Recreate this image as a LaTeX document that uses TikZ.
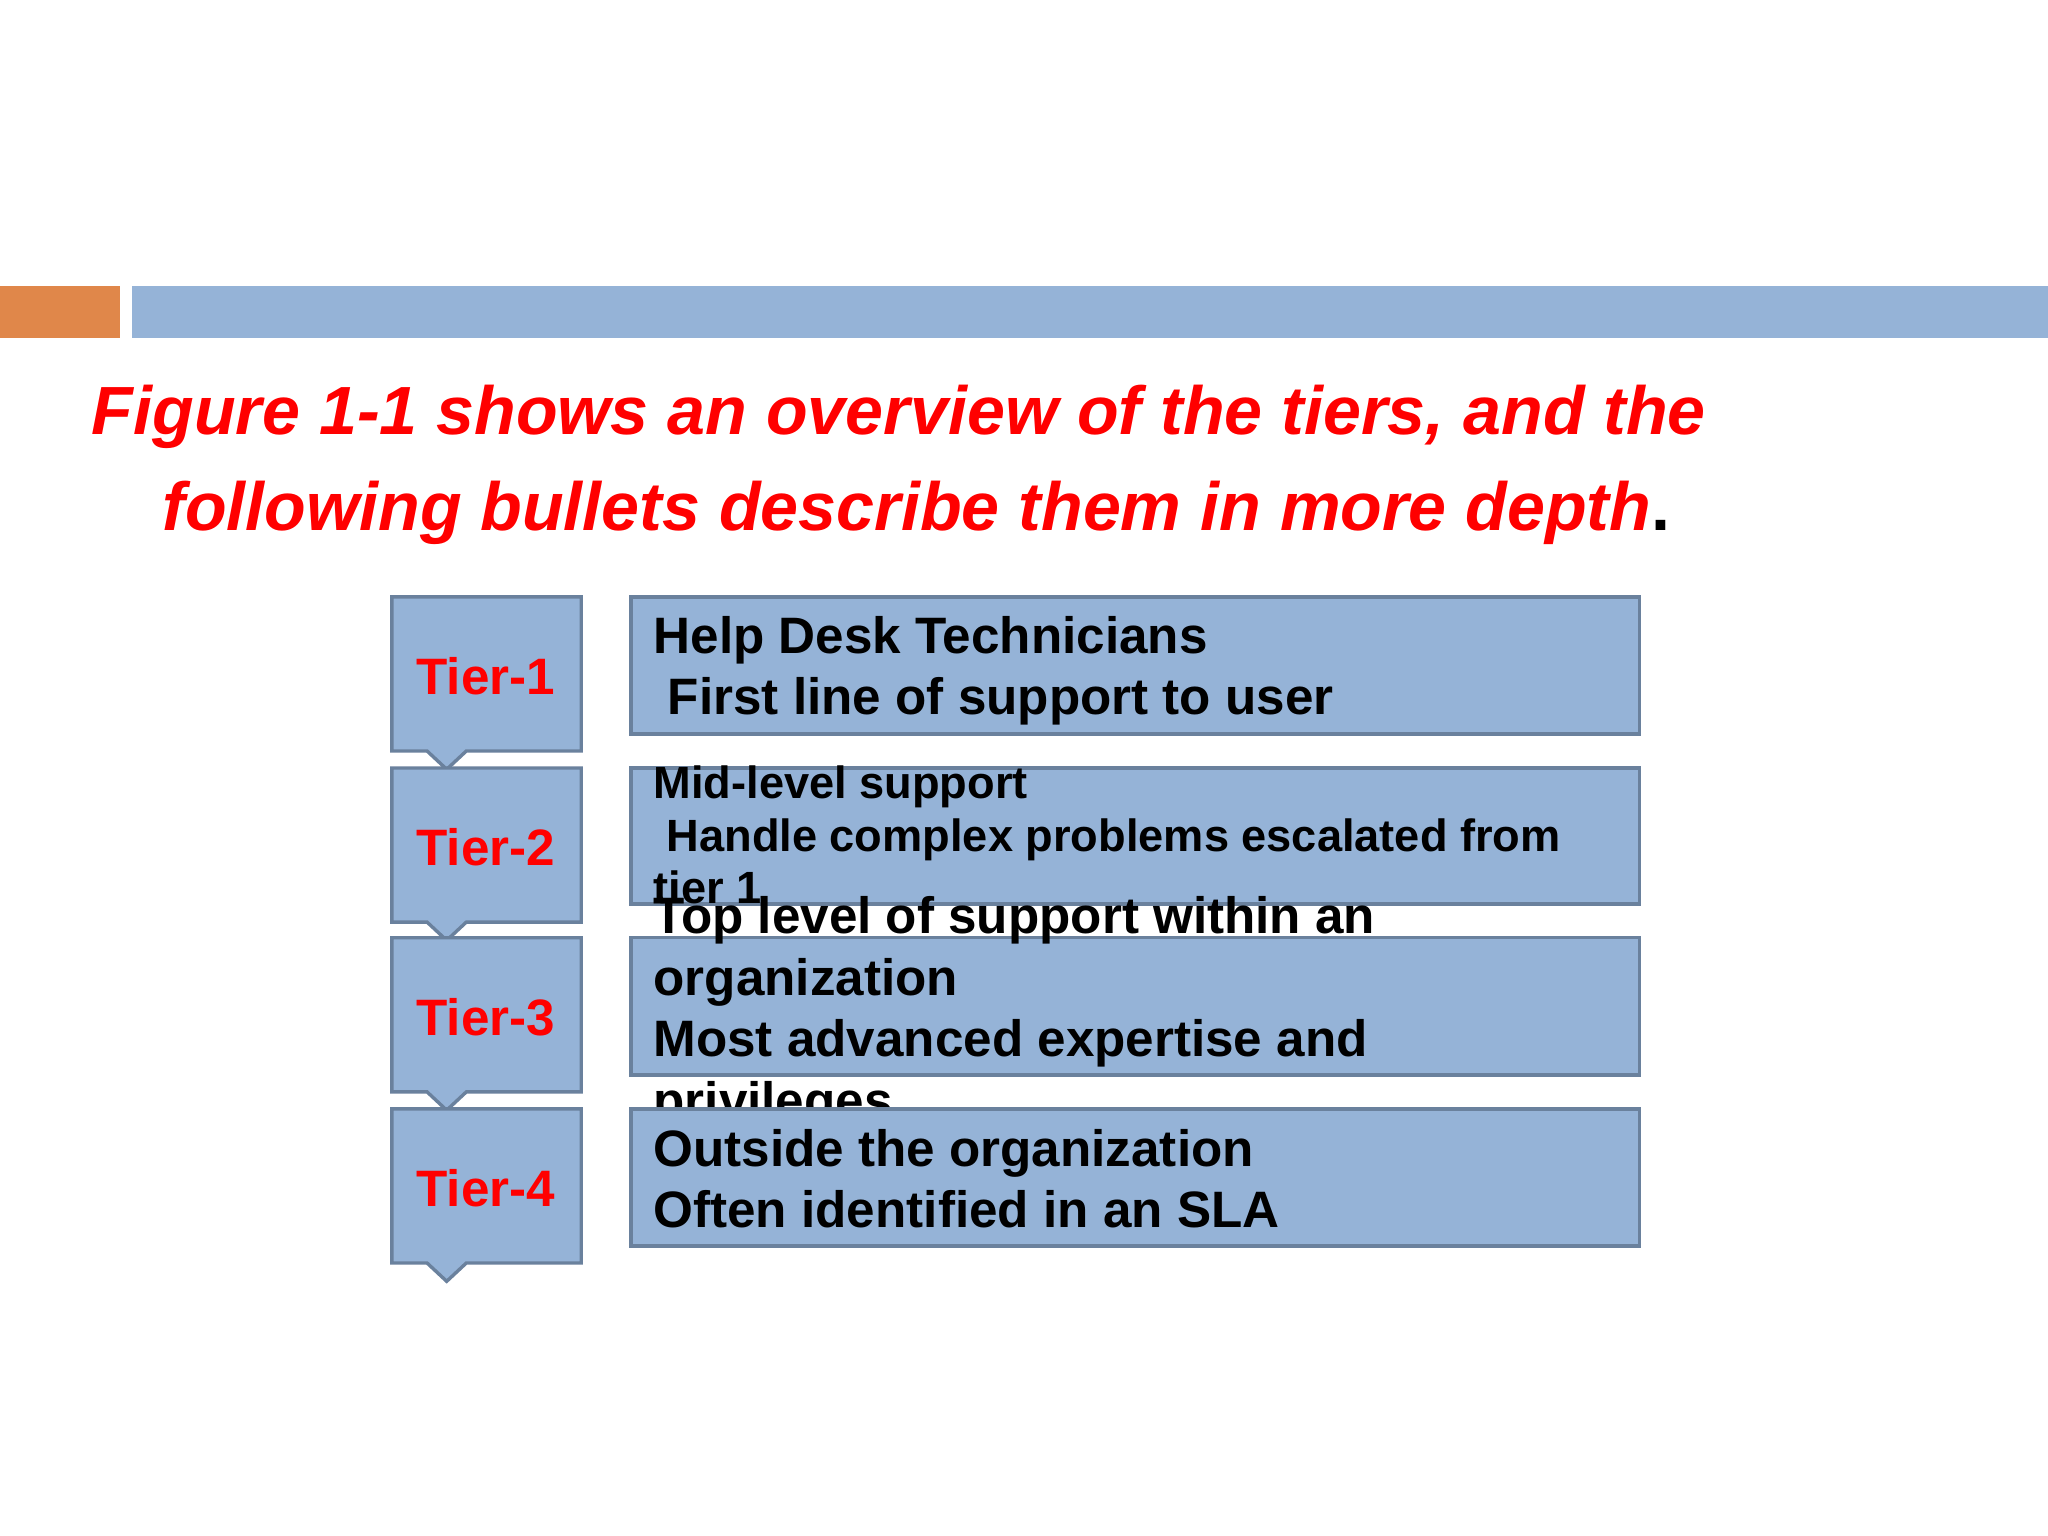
\documentclass[tikz,border=0pt]{standalone}
\usepackage{fontspec}
\setmainfont{Liberation Sans}
\begin{document}
\begin{tikzpicture}[x=0.5pt,y=-0.5pt,
  bx/.style={fill=boxblue,draw=boxedge,line width=1.3pt},
  tt/.style={anchor=base west,inner sep=0pt,font=\fontsize{19.6}{24}\selectfont\bfseries},
  ts/.style={anchor=base west,inner sep=0pt,font=\fontsize{17.3}{20}\selectfont\bfseries},
  tl/.style={inner sep=0pt,text=red,font=\fontsize{19.6}{24}\selectfont\bfseries}]
\definecolor{boxblue}{HTML}{95B3D7}
\definecolor{boxedge}{HTML}{6A819D}
\definecolor{barorange}{HTML}{E0874A}
\useasboundingbox[fill=white] (0,0) rectangle (1568,1176);
\fill[barorange] (0,219) rectangle (92,259);
\fill[boxblue] (101,219) rectangle (1568,259);
\node[anchor=base west,inner sep=0pt,text=red,font=\fontsize{26.1}{32}\selectfont\bfseries\itshape] (t1) at (70,333) {Figure 1-1 shows an overview of the tiers, and the};
\node[anchor=base west,inner sep=0pt,text=red,font=\fontsize{26.1}{32}\selectfont\bfseries\itshape] (t2) at (124,406) {following bullets describe them in more depth\textcolor{black}{\upshape.}};
% tiers
\foreach \i/\y in {1/457,2/588,3/718,4/849}{
  \draw[bx] (300,\y) -- (445,\y) -- (445,\y+118) -- (357,\y+118) -- (342,\y+132) -- (327,\y+118) -- (300,\y+118) -- cycle;
  \node[tl] (tier\i) at (372,\y+61) {Tier-\i};
}
\draw[bx] (483,457) rectangle (1255,562);
\node[tt] (a1) at (500,500) {Help Desk Technicians};
\node[tt] (a2) at (511,547) {First line of support to user};
\draw[bx] (483,588) rectangle (1255,692);
\node[ts] (b1) at (500,611) {Mid-level support};
\node[ts] (b2) at (510,652) {Handle complex problems escalated from};
\node[ts] (b3) at (500,692) {tier 1};
\draw[bx] (483,718) rectangle (1255,823);
\node[tt] (c1) at (500,715) {Top level of support within an};
\node[tt] (c2) at (500,762) {organization};
\node[tt] (c3) at (500,809) {Most advanced expertise and};
\node[tt] (c4) at (500,856) {privileges};
\draw[bx] (483,849) rectangle (1255,954);
\node[tt] (d1) at (500,893) {Outside the organization};
\node[tt] (d2) at (500,940) {Often identified in an SLA};
\end{tikzpicture}
\end{document}
